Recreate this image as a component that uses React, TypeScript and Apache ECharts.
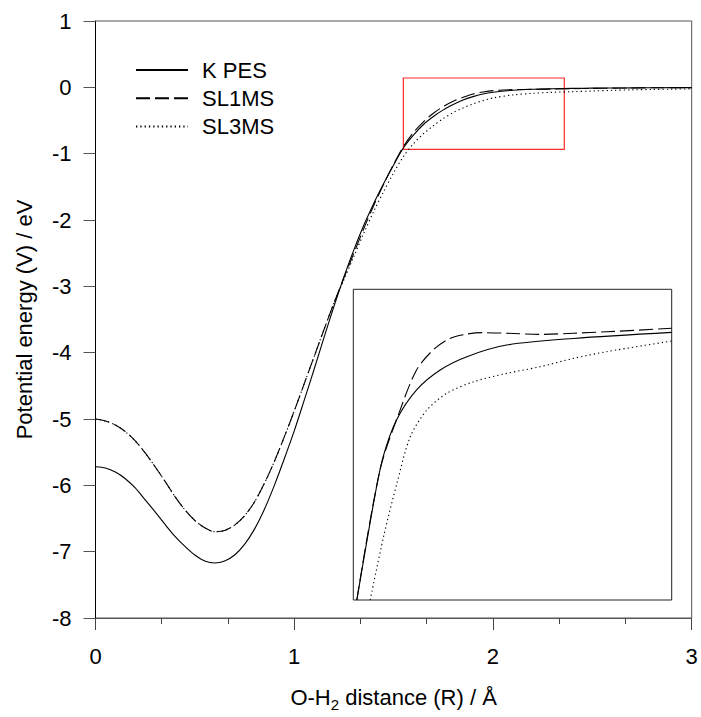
import React, { useEffect, useRef } from 'react';
import * as echarts from 'echarts';

// Main plot: O-H2 distance R (Å)
const xValues = [
  0, 0.05, 0.1, 0.15, 0.2, 0.25, 0.3, 0.35, 0.4, 0.45, 0.5, 0.55, 0.6, 0.65, 0.7, 0.75, 0.8, 0.85, 0.9, 0.95,
  1.0, 1.05, 1.1, 1.15, 1.2, 1.25, 1.3, 1.35, 1.4, 1.45, 1.5, 1.55, 1.6, 1.65, 1.7, 1.75, 1.8, 1.85, 1.9, 1.95,
  2.0, 2.1, 2.2, 2.3, 2.4, 2.5, 2.6, 2.7, 2.8, 2.9, 3.0,
];

// Potential energy V (eV)
const kPES = [
  -5.72, -5.74, -5.8, -5.9, -6.04, -6.22, -6.4, -6.59, -6.77, -6.92, -7.05, -7.14, -7.17, -7.14, -7.05, -6.89, -6.66, -6.36, -6.0, -5.6,
  -5.18, -4.72, -4.25, -3.77, -3.3, -2.86, -2.45, -2.08, -1.75, -1.45, -1.17, -0.91, -0.72, -0.56, -0.44, -0.34, -0.26, -0.19, -0.14, -0.1,
  -0.075, -0.045, -0.03, -0.022, -0.016, -0.012, -0.01, -0.008, -0.006, -0.005, -0.004,
];

const sl1MS = [
  -5.0, -5.03, -5.09, -5.19, -5.33, -5.51, -5.72, -5.94, -6.17, -6.37, -6.53, -6.64, -6.7, -6.68, -6.6, -6.46, -6.25, -5.97, -5.64, -5.27,
  -4.88, -4.47, -4.06, -3.65, -3.25, -2.87, -2.5, -2.13, -1.78, -1.46, -1.16, -0.89, -0.68, -0.52, -0.39, -0.29, -0.21, -0.15, -0.1, -0.07,
  -0.05, -0.035, -0.03, -0.025, -0.02, -0.016, -0.012, -0.009, -0.007, -0.005, -0.004,
];

const sl3MS = [
  -5.0, -5.03, -5.09, -5.19, -5.33, -5.51, -5.72, -5.94, -6.17, -6.37, -6.53, -6.64, -6.7, -6.68, -6.6, -6.46, -6.25, -5.97, -5.64, -5.27,
  -4.88, -4.47, -4.06, -3.65, -3.25, -2.9, -2.55, -2.2, -1.87, -1.57, -1.29, -1.04, -0.85, -0.7, -0.58, -0.47, -0.38, -0.31, -0.25, -0.2,
  -0.16, -0.115, -0.09, -0.075, -0.065, -0.055, -0.045, -0.038, -0.032, -0.027, -0.023,
];

// Region highlighted by the red box (data coordinates)
const zoomX = [1.549, 2.359];
const zoomY = [-0.934, 0.141];

// Inset curves (read in the inset's own frame)
const insetKX = [1.558, 1.602, 1.625, 1.659, 1.71, 1.77, 1.838, 1.939, 2.109, 2.359];
const insetKY = [-0.934, -0.588, -0.438, -0.311, -0.207, -0.138, -0.092, -0.052, -0.029, -0.008];
const insetS1X = [1.558, 1.617, 1.668, 1.71, 1.752, 1.795, 1.838, 1.88, 1.939, 2.024, 2.109, 2.193, 2.359];
const insetS1Y = [-0.934, -0.484, -0.277, -0.138, -0.069, -0.029, -0.014, -0.009, -0.011, -0.015, -0.011, -0.006, 0.006];
const insetS3X = [1.592, 1.626, 1.66, 1.694, 1.736, 1.787, 1.855, 1.939, 2.024, 2.109, 2.193, 2.359];
const insetS3Y = [-0.934, -0.715, -0.53, -0.369, -0.277, -0.219, -0.179, -0.15, -0.127, -0.098, -0.075, -0.038];

const seriesNames = ['K PES', 'SL1MS', 'SL3MS'];

const FONT = '"Liberation Sans", Arial, Helvetica, sans-serif';

const pairs = (xs: number[], ys: number[]) => xs.map((x, i) => [x, ys[i]]);

const solid = { color: '#000', width: 1.1, type: 'solid' as const };
const dashed = { color: '#000', width: 1.1, type: [14, 5] as any };
const dotted = { color: '#000', width: 1.1, type: [1.3, 3] as any };

export default function App() {
  const ref = useRef<HTMLDivElement>(null);

  useEffect(() => {
    if (!ref.current) return;
    const chart = echarts.init(ref.current, undefined, { renderer: 'svg' });

    const lineBase = {
      type: 'line' as const,
      symbol: 'none',
      showSymbol: false,
      smooth: 0.3,
      silent: true,
    };

    chart.setOption({
      animation: false,
      backgroundColor: '#fff',
      textStyle: { fontFamily: FONT },
      grid: [
        {
          left: 95.5, top: 21, width: 596.2, height: 600,
          show: true, borderColor: '#555', borderWidth: 1, backgroundColor: 'transparent',
        },
        {
          left: 353.3, top: 289.3, width: 318.4, height: 310.7,
          show: true, borderColor: '#222', borderWidth: 1, backgroundColor: '#fff',
        },
      ],
      legend: {
        data: seriesNames,
        orient: 'vertical',
        left: 135,
        top: 59,
        padding: 0,
        itemWidth: 52,
        itemHeight: 14,
        itemGap: 6.3,
        selectedMode: false,
        itemStyle: { color: 'rgba(0,0,0,0)', borderWidth: 0, opacity: 0 },
        textStyle: { fontSize: 22, color: '#000', lineHeight: 22, fontFamily: FONT, padding: [0, 0, 0, 9] },
      },
      xAxis: [
        {
          gridIndex: 0, type: 'value', min: 0, max: 3, interval: 1,
          axisLine: { show: true, onZero: false, lineStyle: { color: '#555', width: 1 } },
          axisTick: { show: true, length: 12, lineStyle: { color: '#444' } },
          minorTick: { show: true, splitNumber: 3, length: 6, lineStyle: { color: '#444' } },
          splitLine: { show: false },
          minorSplitLine: { show: false },
          axisLabel: { fontSize: 22, color: '#000', margin: 27, fontFamily: FONT },
          name: 'O-H{sub|2} distance (R) / Å',
          nameLocation: 'middle',
          nameGap: 64,
          nameTextStyle: {
            fontSize: 22, color: '#000', lineHeight: 30, fontFamily: FONT,
            rich: { sub: { fontSize: 15, lineHeight: 14, verticalAlign: 'bottom', color: '#000', fontFamily: FONT } },
          },
        },
        { gridIndex: 1, type: 'value', min: zoomX[0], max: zoomX[1], show: false },
      ],
      yAxis: [
        {
          gridIndex: 0, type: 'value', min: -8, max: 1, interval: 1,
          axisLine: { show: true, onZero: false, lineStyle: { color: '#000', width: 1 } },
          axisTick: { show: true, length: 12, lineStyle: { color: '#555' } },
          splitLine: { show: false },
          axisLabel: { fontSize: 22, color: '#000', margin: 24, fontFamily: FONT },
          name: 'Potential energy (V) / eV',
          nameLocation: 'middle',
          nameGap: 60,
          nameRotate: 90,
          nameTextStyle: { fontSize: 22, color: '#000', lineHeight: 22, fontFamily: FONT },
        },
        { gridIndex: 1, type: 'value', min: zoomY[0], max: zoomY[1], show: false },
      ],
      series: [
        {
          ...lineBase, name: seriesNames[0], xAxisIndex: 0, yAxisIndex: 0,
          data: pairs(xValues, kPES), lineStyle: solid, itemStyle: { color: '#000' },
          markArea: {
            silent: true,
            itemStyle: { color: 'rgba(0,0,0,0)', borderColor: '#ff2a2a', borderWidth: 1.2 },
            data: [[{ coord: [zoomX[0], zoomY[1]] }, { coord: [zoomX[1], zoomY[0]] }]],
          },
        },
        {
          ...lineBase, name: seriesNames[1], xAxisIndex: 0, yAxisIndex: 0,
          data: pairs(xValues, sl1MS), lineStyle: dashed, itemStyle: { color: '#000' },
        },
        {
          ...lineBase, name: seriesNames[2], xAxisIndex: 0, yAxisIndex: 0,
          data: pairs(xValues, sl3MS), lineStyle: dotted, itemStyle: { color: '#000' },
        },
        {
          ...lineBase, name: 'inset K PES', xAxisIndex: 1, yAxisIndex: 1,
          data: pairs(insetKX, insetKY), lineStyle: solid, itemStyle: { color: '#000' },
        },
        {
          ...lineBase, name: 'inset SL1MS', xAxisIndex: 1, yAxisIndex: 1,
          data: pairs(insetS1X, insetS1Y), lineStyle: dashed, itemStyle: { color: '#000' },
        },
        {
          ...lineBase, name: 'inset SL3MS', xAxisIndex: 1, yAxisIndex: 1,
          data: pairs(insetS3X, insetS3Y), lineStyle: dotted, itemStyle: { color: '#000' },
        },
      ],
    });

    return () => chart.dispose();
  }, []);

  return (
    <div
      ref={ref}
      style={{ position: 'absolute', left: 0, top: 0, width: 701, height: 717, background: '#fff' }}
    />
  );
}
